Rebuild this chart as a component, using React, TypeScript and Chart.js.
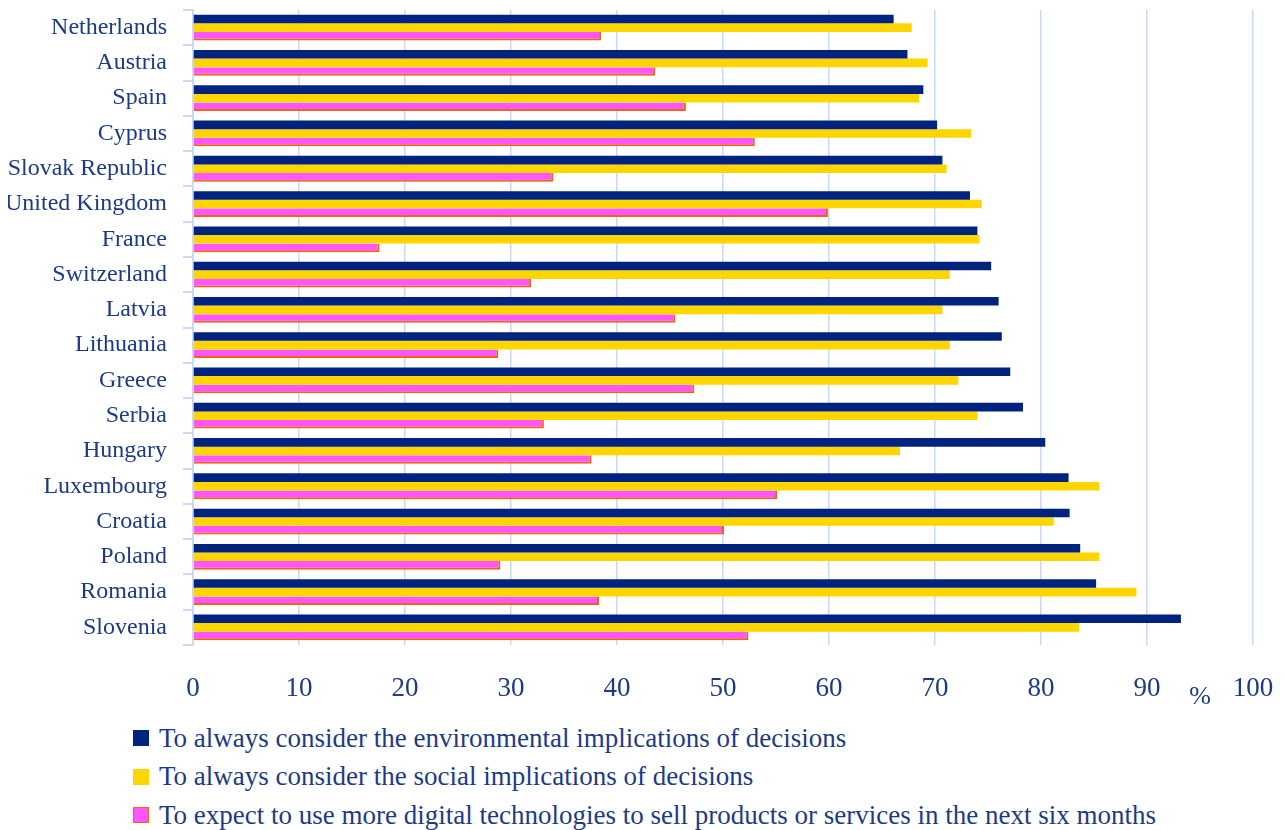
import React, { useEffect, useRef } from 'react';
import { Chart, registerables } from 'chart.js';

Chart.register(...registerables);

const categories = [
  'Netherlands', 'Austria', 'Spain', 'Cyprus', 'Slovak Republic', 'United Kingdom',
  'France', 'Switzerland', 'Latvia', 'Lithuania', 'Greece', 'Serbia', 'Hungary',
  'Luxembourg', 'Croatia', 'Poland', 'Romania', 'Slovenia',
];

const environmental = [66.1, 67.4, 68.9, 70.2, 70.7, 73.3, 74.0, 75.3, 76.0, 76.3, 77.1, 78.3, 80.4, 82.6, 82.7, 83.7, 85.2, 93.2];
const social = [67.8, 69.3, 68.5, 73.4, 71.1, 74.4, 74.2, 71.4, 70.7, 71.4, 72.2, 74.0, 66.7, 85.5, 81.2, 85.5, 89.0, 83.6];
const digital = [38.5, 43.6, 46.5, 53.0, 34.0, 59.9, 17.6, 31.9, 45.5, 28.8, 47.3, 33.1, 37.6, 55.1, 50.1, 29.0, 38.3, 52.4];

const seriesLabels = [
  'To always consider the environmental implications of decisions',
  'To always consider the social implications of decisions',
  'To expect to use more digital technologies to sell products or services in the next six months',
];

const xTicks = [0, 10, 20, 30, 40, 50, 60, 70, 80, 90, 100];
const unitLabel = '%';

const FONT = '"Liberation Serif", "Times New Roman", serif';
const TEXT = '#1d3a8a';
const NAVY = '#00237f';
const YELLOW = '#ffd500';
const PINK = '#ff55ff';
const PINK_BORDER = '#ee6410';
const GRID = '#cbd8f7';

const percentPlugin = {
  id: 'percentLabel',
  afterDraw(chart: any) {
    const { ctx } = chart;
    const x = chart.scales.x;
    ctx.save();
    ctx.font = `26px ${FONT}`;
    ctx.fillStyle = TEXT;
    ctx.textAlign = 'center';
    ctx.textBaseline = 'middle';
    ctx.fillText(unitLabel, x.getPixelForValue(95), 689);
    ctx.restore();
  },
};

const zeroPadding = (scale: any) => {
  scale.paddingTop = 0;
  scale.paddingBottom = 0;
  scale.paddingLeft = 0;
  scale.paddingRight = 0;
};

export default function App() {
  const ref = useRef<HTMLCanvasElement | null>(null);

  useEffect(() => {
    if (!ref.current) return;
    const chart = new Chart(ref.current, {
      type: 'bar',
      data: {
        labels: categories,
        datasets: [
          { label: seriesLabels[0], data: environmental, backgroundColor: NAVY, borderWidth: 0 },
          { label: seriesLabels[1], data: social, backgroundColor: YELLOW, borderWidth: 0 },
          {
            label: seriesLabels[2],
            data: digital,
            backgroundColor: PINK,
            borderColor: PINK_BORDER,
            borderWidth: { top: 0, left: 0, right: 2, bottom: 2 },
            borderSkipped: false,
          },
        ],
      },
      plugins: [percentPlugin],
      options: {
        indexAxis: 'y',
        animation: false,
        responsive: true,
        maintainAspectRatio: false,
        categoryPercentage: 0.73,
        barPercentage: 1,
        layout: { padding: { top: 2, right: 24, left: 0, bottom: 0 } },
        plugins: { legend: { display: false }, tooltip: { enabled: false } },
        scales: {
          x: {
            type: 'linear',
            min: 0,
            max: 100,
            afterBuildTicks: (scale: any) => {
              scale.ticks = xTicks.map((v) => ({ value: v }));
            },
            afterFit: (scale: any) => {
              scale.height = 63;
              zeroPadding(scale);
            },
            grid: { color: GRID, lineWidth: 1.5, drawTicks: false },
            border: { display: false },
            ticks: { color: TEXT, font: { family: FONT, size: 27 }, padding: 28, maxRotation: 0 },
          },
          y: {
            type: 'category',
            offset: true,
            afterFit: (scale: any) => {
              scale.width = 185;
              zeroPadding(scale);
            },
            grid: { offset: true, drawOnChartArea: false, color: GRID, lineWidth: 2, tickLength: 10 },
            border: { display: true, color: GRID, width: 2 },
            ticks: { color: TEXT, font: { family: FONT, size: 24 }, padding: 16, autoSkip: false },
          },
        },
      },
    });
    return () => chart.destroy();
  }, []);

  const swatches = [
    { bg: NAVY, border: NAVY },
    { bg: YELLOW, border: YELLOW },
    { bg: PINK, border: PINK_BORDER },
  ];

  return (
    <div style={{ width: 1269 }}>
      <div style={{ position: 'relative', width: 1269, height: 700 }}>
        <canvas ref={ref} />
      </div>
      <div style={{ marginLeft: 125, marginTop: 11, fontFamily: FONT, fontSize: 27, color: TEXT }}>
        {seriesLabels.map((l, i) => (
          <div key={i} style={{ display: 'flex', alignItems: 'center', height: 38.5, whiteSpace: 'nowrap' }}>
            <span
              style={{
                display: 'inline-block',
                width: 14,
                height: 14,
                background: swatches[i].bg,
                border: `1.5px solid ${swatches[i].border}`,
                marginRight: 10,
                flex: 'none',
              }}
            />
            <span>{l}</span>
          </div>
        ))}
      </div>
    </div>
  );
}
